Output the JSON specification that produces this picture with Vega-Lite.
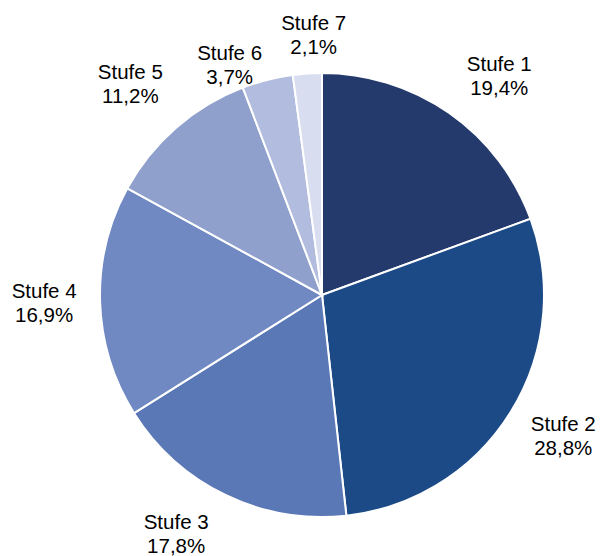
{
  "$schema": "https://vega.github.io/schema/vega-lite/v6.json",
  "width": 558,
  "height": 512,
  "autosize": {"type": "none"},
  "padding": {"left": 43, "top": 39, "right": 0, "bottom": 5},
  "background": "white",
  "data": {
    "values": [
      {"stufe": "Stufe 1", "anteil": 19.4, "order": 1},
      {"stufe": "Stufe 2", "anteil": 28.8, "order": 2},
      {"stufe": "Stufe 3", "anteil": 17.8, "order": 3},
      {"stufe": "Stufe 4", "anteil": 16.9, "order": 4},
      {"stufe": "Stufe 5", "anteil": 11.2, "order": 5},
      {"stufe": "Stufe 6", "anteil": 3.7, "order": 6},
      {"stufe": "Stufe 7", "anteil": 2.1, "order": 7}
    ]
  },
  "transform": [
    {"calculate": "datum.stufe + '\\n' + replace(format(datum.anteil, '.1f'), '.', ',') + '%'", "as": "label"},
    {"stack": "anteil", "groupby": [], "sort": [{"field": "order", "order": "ascending"}], "as": ["a0", "a1"]},
    {"calculate": "(datum.a0 + datum.a1) / 2", "as": "amid"}
  ],
  "layer": [
    {
      "mark": {"type": "arc", "outerRadius": 222, "stroke": "white", "strokeWidth": 2},
      "encoding": {
        "theta": {"field": "a0", "type": "quantitative", "stack": null, "scale": {"domain": [0, 99.9], "zero": true}},
        "theta2": {"field": "a1"},
        "color": {
          "field": "stufe",
          "type": "nominal",
          "scale": {
            "domain": ["Stufe 1", "Stufe 2", "Stufe 3", "Stufe 4", "Stufe 5", "Stufe 6", "Stufe 7"],
            "range": ["#243a6d", "#1b4a87", "#5a78b5", "#7089c3", "#8ea0cb", "#b1bcdf", "#d8ddef"]
          },
          "legend": null
        }
      }
    },
    {
      "transform": [{"filter": "datum.stufe === 'Stufe 1'"}],
      "mark": {"type": "text", "radius": 278, "dx": 18, "dy": -2, "lineBreak": "\n", "lineHeight": 24, "font": "Liberation Sans", "fontSize": 20.5, "fill": "black", "align": "center", "baseline": "middle"},
      "encoding": {"theta": {"field": "amid", "type": "quantitative", "stack": null}, "text": {"field": "label", "type": "nominal"}}
    },
    {
      "transform": [{"filter": "datum.stufe === 'Stufe 2'"}],
      "mark": {"type": "text", "radius": 278, "dx": 5, "dy": -17, "lineBreak": "\n", "lineHeight": 24, "font": "Liberation Sans", "fontSize": 20.5, "fill": "black", "align": "center", "baseline": "middle"},
      "encoding": {"theta": {"field": "amid", "type": "quantitative", "stack": null}, "text": {"field": "label", "type": "nominal"}}
    },
    {
      "transform": [{"filter": "datum.stufe === 'Stufe 3'"}],
      "mark": {"type": "text", "radius": 278, "dx": -25, "dy": -22, "lineBreak": "\n", "lineHeight": 24, "font": "Liberation Sans", "fontSize": 20.5, "fill": "black", "align": "center", "baseline": "middle"},
      "encoding": {"theta": {"field": "amid", "type": "quantitative", "stack": null}, "text": {"field": "label", "type": "nominal"}}
    },
    {
      "transform": [{"filter": "datum.stufe === 'Stufe 4'"}],
      "mark": {"type": "text", "radius": 278, "dx": 0, "dy": -11, "lineBreak": "\n", "lineHeight": 24, "font": "Liberation Sans", "fontSize": 20.5, "fill": "black", "align": "center", "baseline": "middle"},
      "encoding": {"theta": {"field": "amid", "type": "quantitative", "stack": null}, "text": {"field": "label", "type": "nominal"}}
    },
    {
      "transform": [{"filter": "datum.stufe === 'Stufe 5'"}],
      "mark": {"type": "text", "radius": 278, "dx": -9, "dy": -12, "lineBreak": "\n", "lineHeight": 24, "font": "Liberation Sans", "fontSize": 20.5, "fill": "black", "align": "center", "baseline": "middle"},
      "encoding": {"theta": {"field": "amid", "type": "quantitative", "stack": null}, "text": {"field": "label", "type": "nominal"}}
    },
    {
      "transform": [{"filter": "datum.stufe === 'Stufe 6'"}],
      "mark": {"type": "text", "radius": 278, "dx": -24, "dy": 28, "lineBreak": "\n", "lineHeight": 24, "font": "Liberation Sans", "fontSize": 20.5, "fill": "black", "align": "center", "baseline": "middle"},
      "encoding": {"theta": {"field": "amid", "type": "quantitative", "stack": null}, "text": {"field": "label", "type": "nominal"}}
    },
    {
      "transform": [{"filter": "datum.stufe === 'Stufe 7'"}],
      "mark": {"type": "text", "radius": 278, "dx": 10, "dy": 6, "lineBreak": "\n", "lineHeight": 24, "font": "Liberation Sans", "fontSize": 20.5, "fill": "black", "align": "center", "baseline": "middle"},
      "encoding": {"theta": {"field": "amid", "type": "quantitative", "stack": null}, "text": {"field": "label", "type": "nominal"}}
    }
  ]
}
